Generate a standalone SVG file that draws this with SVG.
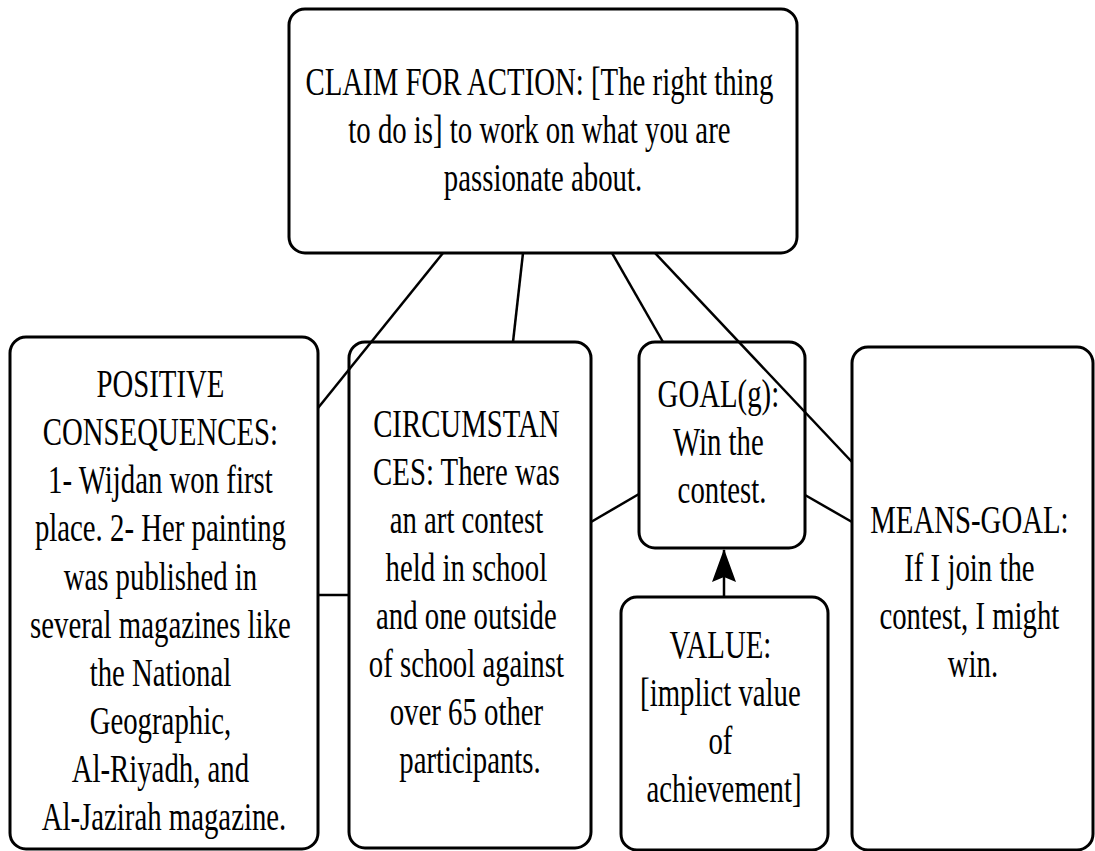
<svg xmlns="http://www.w3.org/2000/svg" width="1095" height="851" viewBox="0 0 1095 851">
  <style>
    .box { fill: #ffffff; stroke: #000000; stroke-width: 3; }
    .lbl { font-family: 'Liberation Serif', 'DejaVu Serif', serif; font-size: 40px; fill: #000000; text-anchor: middle; }
    .edge { stroke: #000000; stroke-width: 2.5; fill: none; }
  </style>
  <defs>
    <!-- arrowhead drawn along +x, tip at the line end -->
    <marker id="arrow" viewBox="0 0 34 24" refX="33" refY="12" markerWidth="34" markerHeight="24" markerUnits="userSpaceOnUse" orient="auto">
      <path d="M34,12 L1,0 L6,12 L1,24 Z" fill="#000000"/>
    </marker>
  </defs>
  <rect width="1095" height="851" fill="#ffffff"/>

  <g id="claim">
    <rect class="box" x="289" y="9" width="508" height="244" rx="16"/>
    <text class="lbl" transform="translate(543,0) scale(0.72,1)">
      <tspan x="0" y="95">CLAIM FOR ACTION: [The right thing</tspan>
      <tspan x="0" y="143">to do is] to work on what you are</tspan>
      <tspan x="0" y="191">passionate about.</tspan>
    </text>
  </g>

  <g id="positive-consequences">
    <rect class="box" x="10" y="337" width="308" height="512" rx="16"/>
    <text class="lbl" transform="translate(164,0) scale(0.72,1)">
      <tspan x="0" y="397">POSITIVE</tspan>
      <tspan x="0" y="445">CONSEQUENCES:</tspan>
      <tspan x="0" y="493">1- Wijdan won first</tspan>
      <tspan x="0" y="541">place. 2- Her painting</tspan>
      <tspan x="0" y="590">was published in</tspan>
      <tspan x="0" y="638">several magazines like</tspan>
      <tspan x="0" y="686">the National</tspan>
      <tspan x="0" y="734">Geographic,</tspan>
      <tspan x="0" y="782">Al-Riyadh, and</tspan>
      <tspan x="0" y="830">Al-Jazirah magazine.</tspan>
    </text>
  </g>

  <g id="circumstances">
    <rect class="box" x="349" y="342" width="242" height="506" rx="16"/>
    <text class="lbl" transform="translate(470,0) scale(0.72,1)">
      <tspan x="0" y="437">CIRCUMSTAN</tspan>
      <tspan x="0" y="485">CES: There was</tspan>
      <tspan x="0" y="533">an art contest</tspan>
      <tspan x="0" y="581">held in school</tspan>
      <tspan x="0" y="629">and one outside</tspan>
      <tspan x="0" y="677">of school against</tspan>
      <tspan x="0" y="725">over 65 other</tspan>
      <tspan x="0" y="773">participants.</tspan>
    </text>
  </g>

  <g id="goal">
    <rect class="box" x="639" y="342" width="166" height="206" rx="16"/>
    <text class="lbl" transform="translate(722,0) scale(0.72,1)">
      <tspan x="0" y="407">GOAL(g):</tspan>
      <tspan x="0" y="455">Win the</tspan>
      <tspan x="0" y="503">contest.</tspan>
    </text>
  </g>

  <g id="value">
    <rect class="box" x="621" y="597" width="207" height="253" rx="16"/>
    <text class="lbl" transform="translate(724,0) scale(0.72,1)">
      <tspan x="0" y="658">VALUE:</tspan>
      <tspan x="0" y="706">[implict value</tspan>
      <tspan x="0" y="754">of</tspan>
      <tspan x="0" y="802">achievement]</tspan>
    </text>
  </g>

  <g id="means-goal">
    <rect class="box" x="852" y="347" width="241" height="503" rx="16"/>
    <text class="lbl" transform="translate(973,0) scale(0.72,1)">
      <tspan x="0" y="533">MEANS-GOAL:</tspan>
      <tspan x="0" y="581">If I join the</tspan>
      <tspan x="0" y="629">contest, I might</tspan>
      <tspan x="0" y="677">win.</tspan>
    </text>
  </g>

  <g id="connectors">
    <line class="edge" x1="443" y1="253" x2="318" y2="408"/>
    <line class="edge" x1="523" y1="253" x2="513" y2="342"/>
    <line class="edge" x1="612" y1="253" x2="663" y2="342"/>
    <line class="edge" x1="655" y1="253" x2="852" y2="462"/>
    <line class="edge" x1="318" y1="595" x2="349" y2="595"/>
    <line class="edge" x1="591" y1="522" x2="639" y2="494"/>
    <line class="edge" x1="805" y1="495" x2="852" y2="522"/>
    <line class="edge" x1="724" y1="597" x2="724" y2="550" marker-end="url(#arrow)"/>
  </g>
</svg>
